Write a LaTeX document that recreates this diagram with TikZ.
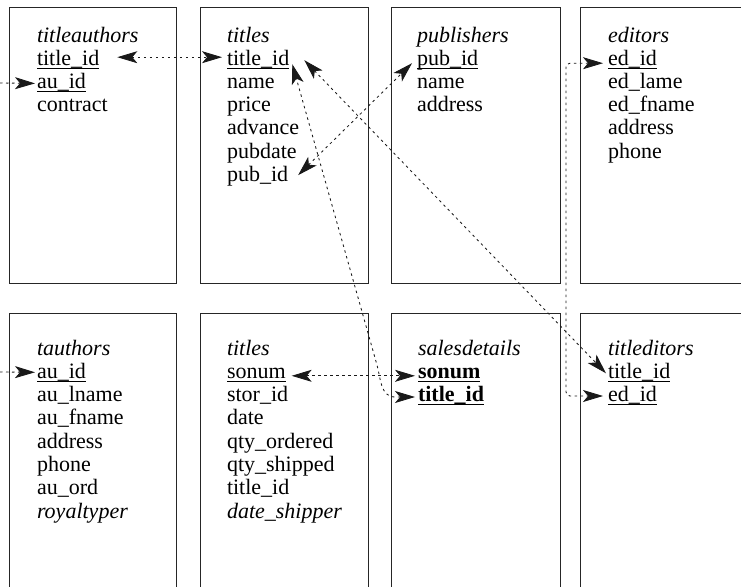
\documentclass[tikz,border=0pt]{standalone}
\usepackage{fontspec}
\setmainfont{Liberation Serif}
\usetikzlibrary{arrows.meta}
% key field: text with a rule close under the baseline
\newcommand\keyline[1]{\setbox0=\hbox{#1}\rlap{\rule[-3.2pt]{\wd0}{0.8pt}}\box0}
\begin{document}
\begin{tikzpicture}[x=1pt,y=-1pt,
  tbl/.style={draw=black!85, line width=0.8pt, inner sep=0pt, outer sep=0pt, anchor=north west},
  topbox/.style={tbl, minimum width=168pt, minimum height=276pt},
  lowbox/.style={tbl, minimum width=168pt, minimum height=300pt},
  fld/.style={anchor=base west, inner sep=0pt, outer sep=0pt, font=\fontsize{22}{23}\selectfont},
  dots/.style={line width=0.85pt, black!90, dash pattern=on 2.5pt off 3.5pt},
  link/.style={dots, arrows={Stealth[length=20pt,width=12pt,inset=5pt]-Stealth[length=20pt,width=12pt,inset=5pt]}},
  feed/.style={dots, arrows={-Stealth[length=20pt,width=12pt,inset=5pt]}}
]
\useasboundingbox (0,0) rectangle (741,586);
\clip (0,0) rectangle (741,586);

% table frames
\node[topbox, minimum width=167pt] (titleauthors) at (9,7) {};
\node[topbox] (titles) at (200,7) {};
\node[topbox, minimum width=169pt] (publishers) at (391,7) {};
\node[topbox, minimum width=200pt] (editors) at (580,7) {};
\node[lowbox, minimum width=167pt] (tauthors) at (9,313) {};
\node[lowbox] (sales) at (200,313) {};
\node[lowbox, minimum width=169pt] (salesdetails) at (391,313) {};
\node[lowbox, minimum width=200pt] (titleditors) at (580,313) {};

% titleauthors
\node[fld] (ta-h)   at (37,42)    {\textit{titleauthors}};
\node[fld] (ta-tid) at (37,65.2)  {\keyline{title\_id}};
\node[fld] (ta-aid) at (37,88.4)  {\keyline{au\_id}};
\node[fld] (ta-con) at (37,111.6) {contract};

% titles
\node[fld] (ti-h)   at (227,42)    {\textit{titles}};
\node[fld] (ti-tid) at (227,65.2)  {\keyline{title\_id}};
\node[fld] (ti-nam) at (227,88.4)  {name};
\node[fld] (ti-pri) at (227,111.6) {price};
\node[fld] (ti-adv) at (227,134.8) {advance};
\node[fld] (ti-pd)  at (227,158)   {pubdate};
\node[fld] (ti-pid) at (227,181.2) {pub\_id};

% publishers
\node[fld] (pu-h)   at (417,42)    {\textit{publishers}};
\node[fld] (pu-pid) at (417,65.2)  {\keyline{pub\_id}};
\node[fld] (pu-nam) at (417,88.4)  {name};
\node[fld] (pu-adr) at (417,111.6) {address};

% editors
\node[fld] (ed-h)   at (608,42)    {\textit{editors}};
\node[fld] (ed-id)  at (608,65.2)  {\keyline{ed\_id}};
\node[fld] (ed-ln)  at (608,88.4)  {ed\_lame};
\node[fld] (ed-fn)  at (608,111.6) {ed\_fname};
\node[fld] (ed-adr) at (608,134.8) {address};
\node[fld] (ed-ph)  at (608,158)   {phone};

% tauthors
\node[fld] (tau-h)   at (37,355)   {\textit{tauthors}};
\node[fld] (tau-aid) at (37,378.3) {\keyline{au\_id}};
\node[fld] (tau-ln)  at (37,401.6) {au\_lname};
\node[fld] (tau-fn)  at (37,424.9) {au\_fname};
\node[fld] (tau-adr) at (37,448.2) {address};
\node[fld] (tau-ph)  at (37,471.5) {phone};
\node[fld] (tau-ord) at (37,494.8) {au\_ord};
\node[fld] (tau-roy) at (37,518.1) {\textit{royaltyper}};

% titles (orders)
\node[fld] (t2-h)   at (227,355)   {\textit{titles}};
\node[fld] (t2-son) at (227,378.3) {\keyline{sonum}};
\node[fld] (t2-sid) at (227,401.6) {stor\_id};
\node[fld] (t2-dat) at (227,424.9) {date};
\node[fld] (t2-qo)  at (227,448.2) {qty\_ordered};
\node[fld] (t2-qs)  at (227,471.5) {qty\_shipped};
\node[fld] (t2-tid) at (227,494.8) {title\_id};
\node[fld] (t2-ds)  at (227,518.1) {\textit{date\_shipper}};

% salesdetails
\node[fld] (sd-h)   at (418,355)   {\textit{salesdetails}};
\node[fld] (sd-son) at (418,378.3) {\keyline{\textbf{sonum}}};
\node[fld] (sd-tid) at (418,401.6) {\keyline{\textbf{title\_id}}};

% titleditors
\node[fld] (te-h)   at (608,355)   {\textit{titleditors}};
\node[fld] (te-tid) at (608,378.3) {\keyline{title\_id}};
\node[fld] (te-eid) at (608,401.6) {\keyline{ed\_id}};

% links leaving the left edge
\coordinate (edgeA) at (0,83);
\coordinate (edgeB) at (0,372);
\draw[feed] (edgeA) -- ([shift={(-2pt,5pt)}]ta-aid.base west);
\draw[feed] (edgeB) -- ([shift={(-2pt,6pt)}]tau-aid.base west);

% key links
\draw[link] ([shift={(18pt,8pt)}]ta-tid.base east) -- ([shift={(-5pt,8pt)}]ti-tid.base west);
\draw[link] ([shift={(10pt,6pt)}]ti-pid.base east) -- ([shift={(-5pt,2pt)}]pu-pid.base west);
\draw[link] ([shift={(-3pt,4.6pt)}]sd-tid.base west) -- ++(-20pt,0pt)
  to[out=180,in=-75] ++(-18pt,32pt) -- ([shift={(3pt,1pt)}]ti-tid.base east);
\draw[link] ([shift={(15pt,5pt)}]ti-tid.base east) -- ([shift={(-2pt,5pt)}]te-tid.base west);
\draw[link] ([shift={(6pt,2.5pt)}]t2-son.base east) -- ([shift={(-3pt,2.5pt)}]sd-son.base west);
\draw[link, rounded corners=4pt] ([shift={(-5pt,2pt)}]ed-id.base west) -- ++(-37pt,0pt)
  |- ([shift={(-5pt,5.6pt)}]te-eid.base west);
\end{tikzpicture}
\end{document}
